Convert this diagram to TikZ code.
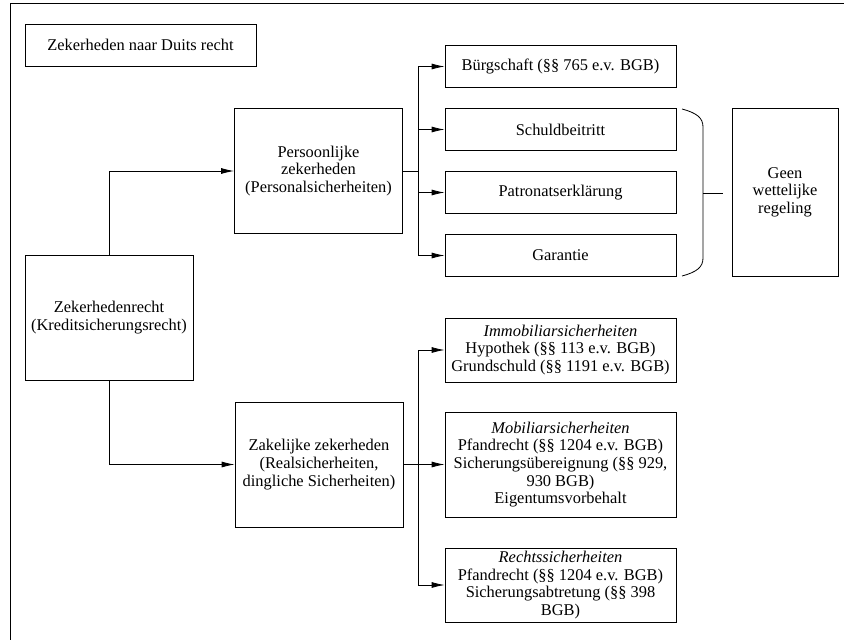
\documentclass[tikz,border=0pt]{standalone}
\usepackage{fontspec}
\setmainfont{Liberation Serif}
\usetikzlibrary{shapes,arrows,arrows.meta}
\newcommand{\lawfont}{\fontsize{16.4pt}{17.6pt}\selectfont}
\tikzstyle{block} = [rectangle, draw, line width=0.8pt, align=center, font=\lawfont,
    inner sep=0pt, minimum width=231pt, minimum height=42pt, node distance=63pt]
\tikzstyle{bigblock} = [block, minimum width=168pt, minimum height=125pt]
\tikzstyle{line} = [draw, -{Latex[length=13pt,width=6pt]}, line width=0.8pt]
\tikzstyle{edge} = [draw, line width=0.8pt]

\begin{document}
\begin{tikzpicture}[x=1pt, y=1pt]
    \useasboundingbox (0,0) rectangle (844,-640);
    \draw [line width=1pt] (10,-640) -- (10,-3.5) -- (844,-3.5);

    \node [block] (title) at (140.5,-45) {Zekerheden naar Duits recht};
    \node [bigblock] (recht) at (109,-317.5) {Zekerhedenrecht\\(Kreditsicherungsrecht)};
    \node [bigblock] (pers) at (318.5,-171) {Persoonlijke\\zekerheden\\(Personalsicherheiten)};
    \node [bigblock] (zak) at (319,-464.5) {Zakelijke zekerheden\\(Realsicherheiten,\\dingliche Sicherheiten)};

    \node [block] (burg) at (560.5,-66.5) {Bürgschaft (§§ 765 e.v. BGB)};
    \node [block, below of=burg] (schuld) {Schuldbeitritt};
    \node [block, below of=schuld] (patron) {Patronatserklärung};
    \node [block, below of=patron] (garant) {Garantie};
    \node [block, minimum width=106pt, minimum height=168pt] (geen) at (785,-192) {Geen\\wettelijke\\regeling};

    \node [block, minimum height=64pt] (immo) at (560.5,-350)
        {\textit{Immobiliarsicherheiten}\\Hypothek (§§ 113 e.v. BGB)\\Grundschuld (§§ 1191 e.v. BGB)};
    \node [block, minimum height=105pt] (mobi) at (560.5,-464.5)
        {\textit{Mobiliarsicherheiten}\\Pfandrecht (§§ 1204 e.v. BGB)\\Sicherungsübereignung (§§ 929,\\930 BGB)\\Eigentumsvorbehalt};
    \node [block, minimum height=74pt] (rechts) at (560.5,-585)
        {\textit{Rechtssicherheiten}\\Pfandrecht (§§ 1204 e.v. BGB)\\Sicherungsabtretung (§§ 398\\BGB)};

    \coordinate (pfork) at (418,-171);
    \coordinate (zfork) at (418,-464.5);

    \path [line] (recht) |- (pers);
    \path [line] (recht) |- (zak);
    \path [edge] (pers) -- (pfork);
    \path [line] (pfork) |- (burg);
    \path [line] (pfork) |- (schuld);
    \path [line] (pfork) |- (patron);
    \path [line] (pfork) |- (garant);
    \path [edge] (zak) -- (zfork);
    \path [line] (zfork) |- (immo);
    \path [line] (zfork) |- (mobi);
    \path [line] (zfork) |- (rechts);

    % accolade
    \coordinate (btop) at (682,-109);
    \coordinate (bbot) at (682,-276);
    \coordinate (bmid) at (703,-193);
    \coordinate (btip) at (723,-193);
    \path [edge] (btop) .. controls (697,-113) and (703,-118) .. (703,-127)
        -- (703,-258) .. controls (703,-267) and (697,-272) .. (bbot);
    \path [edge] (bmid) -- (btip);

\end{tikzpicture}
\end{document}
